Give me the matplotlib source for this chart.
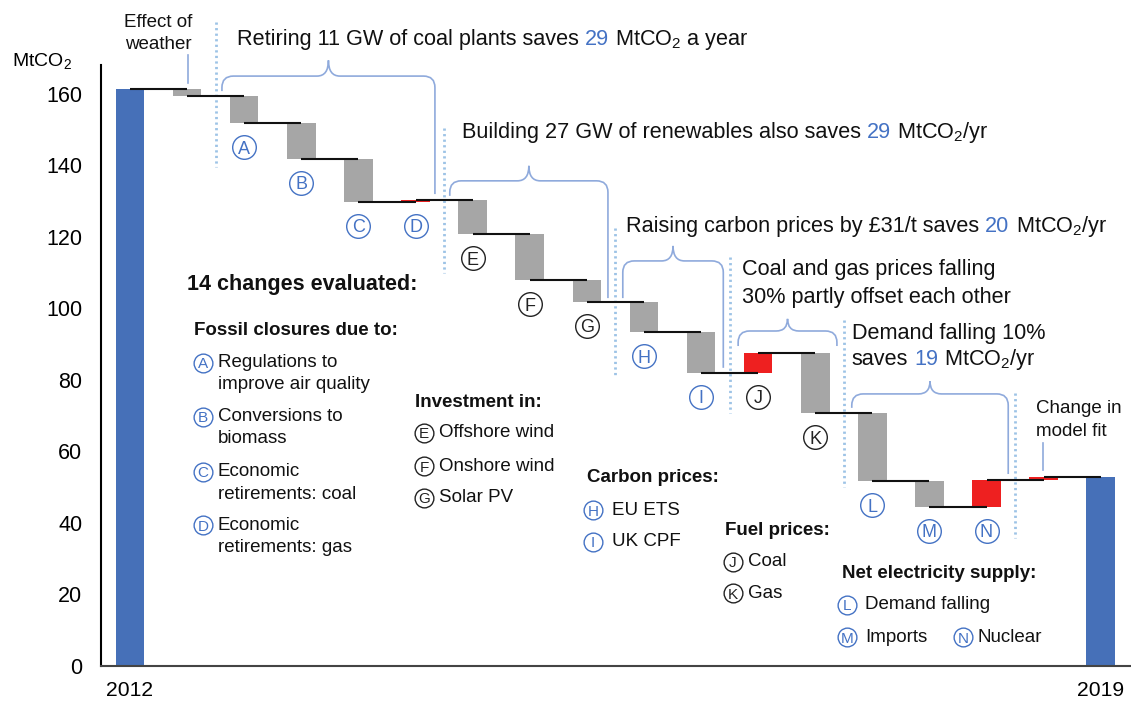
import matplotlib
matplotlib.use("Agg")
import matplotlib.pyplot as plt
import numpy as np
from matplotlib.path import Path
from matplotlib.patches import PathPatch
from matplotlib.offsetbox import TextArea, HPacker, AnnotationBbox

plt.rcParams["font.family"] = "Liberation Sans"
plt.rcParams["mathtext.fontset"] = "custom"
plt.rcParams["mathtext.rm"] = "Liberation Sans"
plt.rcParams["mathtext.it"] = "Liberation Sans:italic"
plt.rcParams["mathtext.bf"] = "Liberation Sans:bold"

# --- Data ---
year_labels = ["2012", "2019"]
start_emissions = 161.4
step_letters = ["", "A", "B", "C", "D", "E", "F", "G", "H", "I", "J", "K", "L", "M", "N", ""]
step_changes = [-2.0, -7.6, -10.0, -11.9, 0.5, -9.6, -12.9, -6.0, -8.6, -11.3,
                5.5, -16.8, -19.0, -7.2, 7.5, 0.8]
blue_letters = "ABCDHILMN"
y_ticks = [0, 20, 40, 60, 80, 100, 120, 140, 160]

# --- Colours ---
BAR_BLUE = "#4670b8"
GREY = "#a6a6a6"
RED = "#ee2020"
TXT_BLUE = "#4472c4"
BRACE = "#8faadc"
DOTS = "#9dc3e6"
INK = "#111111"

NOTE_SIZE = 15.6


def circled(ax, x, y, letter, color, ms, fs):
    """Circled letter, as used in the chart and the key."""
    ax.plot(x, y, "o", ms=ms, mfc="white", mec=color, mew=1.0,
            clip_on=False, zorder=5)
    ax.text(x, y, letter, ha="center", va="center_baseline", fontsize=fs,
            color=color, zorder=6)


def rich_text(ax, x, y, parts, size=NOTE_SIZE):
    """One line of text made of pieces with different colours."""
    boxes = [TextArea(s, textprops=dict(color=c, fontsize=size)) for s, c in parts]
    pack = HPacker(children=boxes, align="baseline", pad=0, sep=size * 0.278)
    ab = AnnotationBbox(pack, (x, y), xycoords="data", box_alignment=(0, 0.5),
                        frameon=False, pad=0, annotation_clip=False)
    ax.add_artist(ab)


def brace(ax, x0, x1, y_top, y_peak, y_left, y_right, rx=0.2, ry=3.2):
    """Curly bracket drawn over a group of bars."""
    xm = (x0 + x1) / 2
    verts = [(x0, y_left), (x0, y_top - ry), (x0, y_top), (x0 + rx, y_top),
             (xm - rx, y_top), (xm, y_top), (xm, y_peak),
             (xm, y_top), (xm + rx, y_top),
             (x1 - rx, y_top), (x1, y_top), (x1, y_top - ry), (x1, y_right)]
    codes = [Path.MOVETO, Path.LINETO, Path.CURVE3, Path.CURVE3,
             Path.LINETO, Path.CURVE3, Path.CURVE3,
             Path.CURVE3, Path.CURVE3,
             Path.LINETO, Path.CURVE3, Path.CURVE3, Path.LINETO]
    ax.add_patch(PathPatch(Path(verts, codes), fill=False, ec=BRACE, lw=1.2,
                           clip_on=False))


# --- Waterfall geometry ---
levels = start_emissions + np.cumsum(step_changes)
before = np.concatenate([[start_emissions], levels[:-1]])
end_emissions = levels[-1]
n_steps = len(step_changes)
x_steps = np.arange(1, n_steps + 1)
x_end = n_steps + 1

fig = plt.figure(figsize=(11.31, 7.02), dpi=100)
ax = fig.add_axes([101 / 1131, 1 - 666 / 702, 1 - 101 / 1131, 601 / 702])
ax.set_xlim(-0.508, 17.53)
ax.set_ylim(0, 168.1)

# totals
ax.bar([0, x_end], [start_emissions, end_emissions], width=0.5, color=BAR_BLUE, zorder=2)

# steps
bottoms = np.minimum(before, levels)
heights = np.abs(np.array(step_changes))
colors = [RED if c > 0 else GREY for c in step_changes]
ax.bar(x_steps, heights, bottom=bottoms, width=0.5, color=colors, zorder=2)

# connectors from centre of one bar to the centre of the next
all_levels = np.concatenate([[start_emissions], levels])
ax.hlines(all_levels, np.arange(0, x_end), np.arange(1, x_end + 1),
          color=INK, lw=1.5, zorder=3)

# circled letters under bars
for x, letter, b in zip(x_steps, step_letters, bottoms):
    if letter:
        col = TXT_BLUE if letter in blue_letters else "#222222"
        circled(ax, x, b - 6.7, letter, col, ms=17, fs=13)

# --- Axes styling ---
for s in ["top", "right"]:
    ax.spines[s].set_visible(False)
ax.spines["left"].set_color("black")
ax.spines["left"].set_linewidth(1.5)
ax.spines["bottom"].set_color("#444444")
ax.spines["bottom"].set_linewidth(1.5)
ax.set_yticks(y_ticks)
ax.set_xticks([0, x_end])
ax.set_xticklabels(year_labels)
ax.tick_params(axis="y", length=0, pad=13.5, labelsize=15.5)
ax.tick_params(axis="x", length=0, pad=10.5, labelsize=15.2)
ax.text(-1.54, 169.2, "MtCO$_2$", ha="center", va="center", fontsize=14)

# --- Group dividers, pointers and brackets ---
dividers = [(1.5, 180.1, 139.6), (5.5, 150.5, 109.9), (8.5, 122.5, 81.4),
            (10.5, 114.4, 70.8), (12.5, 96.8, 50.1), (15.5, 76.4, 35.8)]
for x, y0, y1 in dividers:
    ax.plot([x, x], [y0, y1], color=DOTS, lw=2.0, ls=(0, (0.8, 1.2)),
            clip_on=False, zorder=1)

ax.plot([1.02, 1.02], [170.9, 163.1], color=BRACE, lw=1.2, clip_on=False)
ax.plot([15.99, 15.99], [62.4, 54.8], color=BRACE, lw=1.2, clip_on=False)

brace(ax, 1.61, 5.34, 165.0, 169.4, 160.8, 132.0)
brace(ax, 5.60, 8.37, 135.7, 139.9, 131.5, 102.9)
brace(ax, 8.63, 10.39, 113.3, 117.5, 102.9, 83.4)
brace(ax, 10.65, 12.38, 93.7, 97.1, 89.5, 89.5)
brace(ax, 12.64, 15.38, 76.1, 79.7, 72.2, 53.7)

# --- Annotations ---
ax.text(0.49, 180.1, "Effect of", ha="center", va="center", fontsize=13.5, color=INK)
ax.text(0.49, 173.7, "weather", ha="center", va="center", fontsize=13.5, color=INK)
ax.text(15.87, 71.9, "Change in", ha="left", va="center", fontsize=13.5, color=INK)
ax.text(15.87, 65.5, "model fit", ha="left", va="center", fontsize=13.5, color=INK)

rich_text(ax, 1.87, 175.1, [("Retiring 11 GW of coal plants saves", INK), ("29", TXT_BLUE),
                            ("MtCO$_2$ a year", INK)])
rich_text(ax, 5.81, 149.1, [("Building 27 GW of renewables also saves", INK), ("29", TXT_BLUE),
                            ("MtCO$_2$/yr", INK)])
rich_text(ax, 8.69, 122.8, [("Raising carbon prices by £31/t saves", INK), ("20", TXT_BLUE),
                            ("MtCO$_2$/yr", INK)])
rich_text(ax, 10.72, 110.8, [("Coal and gas prices falling", INK)])
rich_text(ax, 10.72, 103.2, [("30% partly offset each other", INK)])
rich_text(ax, 12.64, 93.1, [("Demand falling 10%", INK)])
rich_text(ax, 12.64, 85.6, [("saves", INK), ("19", TXT_BLUE), ("MtCO$_2$/yr", INK)])

# --- Key ---
ax.text(1.0, 106.6, "14 changes evaluated:", fontsize=15.5, fontweight="bold",
        va="center", color=INK)
headers = [(1.12, 93.7, "Fossil closures due to:"), (4.99, 73.8, "Investment in:"),
           (8.0, 52.6, "Carbon prices:"), (10.42, 38.0, "Fuel prices:"),
           (12.47, 26.0, "Net electricity supply:")]
for x, y, t in headers:
    ax.text(x, y, t, fontsize=13.5, fontweight="bold", va="center", color=INK)

key_items = [
    (1.28, 1.54, 84.8, "A", ["Regulations to", "improve air quality"]),
    (1.28, 1.54, 69.7, "B", ["Conversions to", "biomass"]),
    (1.28, 1.54, 54.3, "C", ["Economic", "retirements: coal"]),
    (1.28, 1.54, 39.4, "D", ["Economic", "retirements: gas"]),
    (5.15, 5.41, 65.2, "E", ["Offshore wind"]),
    (5.15, 5.41, 55.9, "F", ["Onshore wind"]),
    (5.15, 5.41, 47.0, "G", ["Solar PV"]),
    (8.11, 8.44, 43.6, "H", ["EU ETS"]),
    (8.11, 8.44, 34.7, "I", ["UK CPF"]),
    (10.56, 10.82, 29.1, "J", ["Coal"]),
    (10.56, 10.82, 20.4, "K", ["Gas"]),
    (12.56, 12.87, 17.1, "L", ["Demand falling"]),
    (12.56, 12.87, 8.1, "M", ["Imports"]),
    (14.59, 14.85, 8.1, "N", ["Nuclear"]),
]
for xc, xt, y, letter, lines in key_items:
    col = TXT_BLUE if letter in blue_letters else "#222222"
    circled(ax, xc, y, letter, col, ms=13.5, fs=11)
    for k, line in enumerate(lines):
        ax.text(xt, y - k * 6.2, line, fontsize=13.5, va="center", color=INK)

plt.savefig("out.png", dpi=100)
